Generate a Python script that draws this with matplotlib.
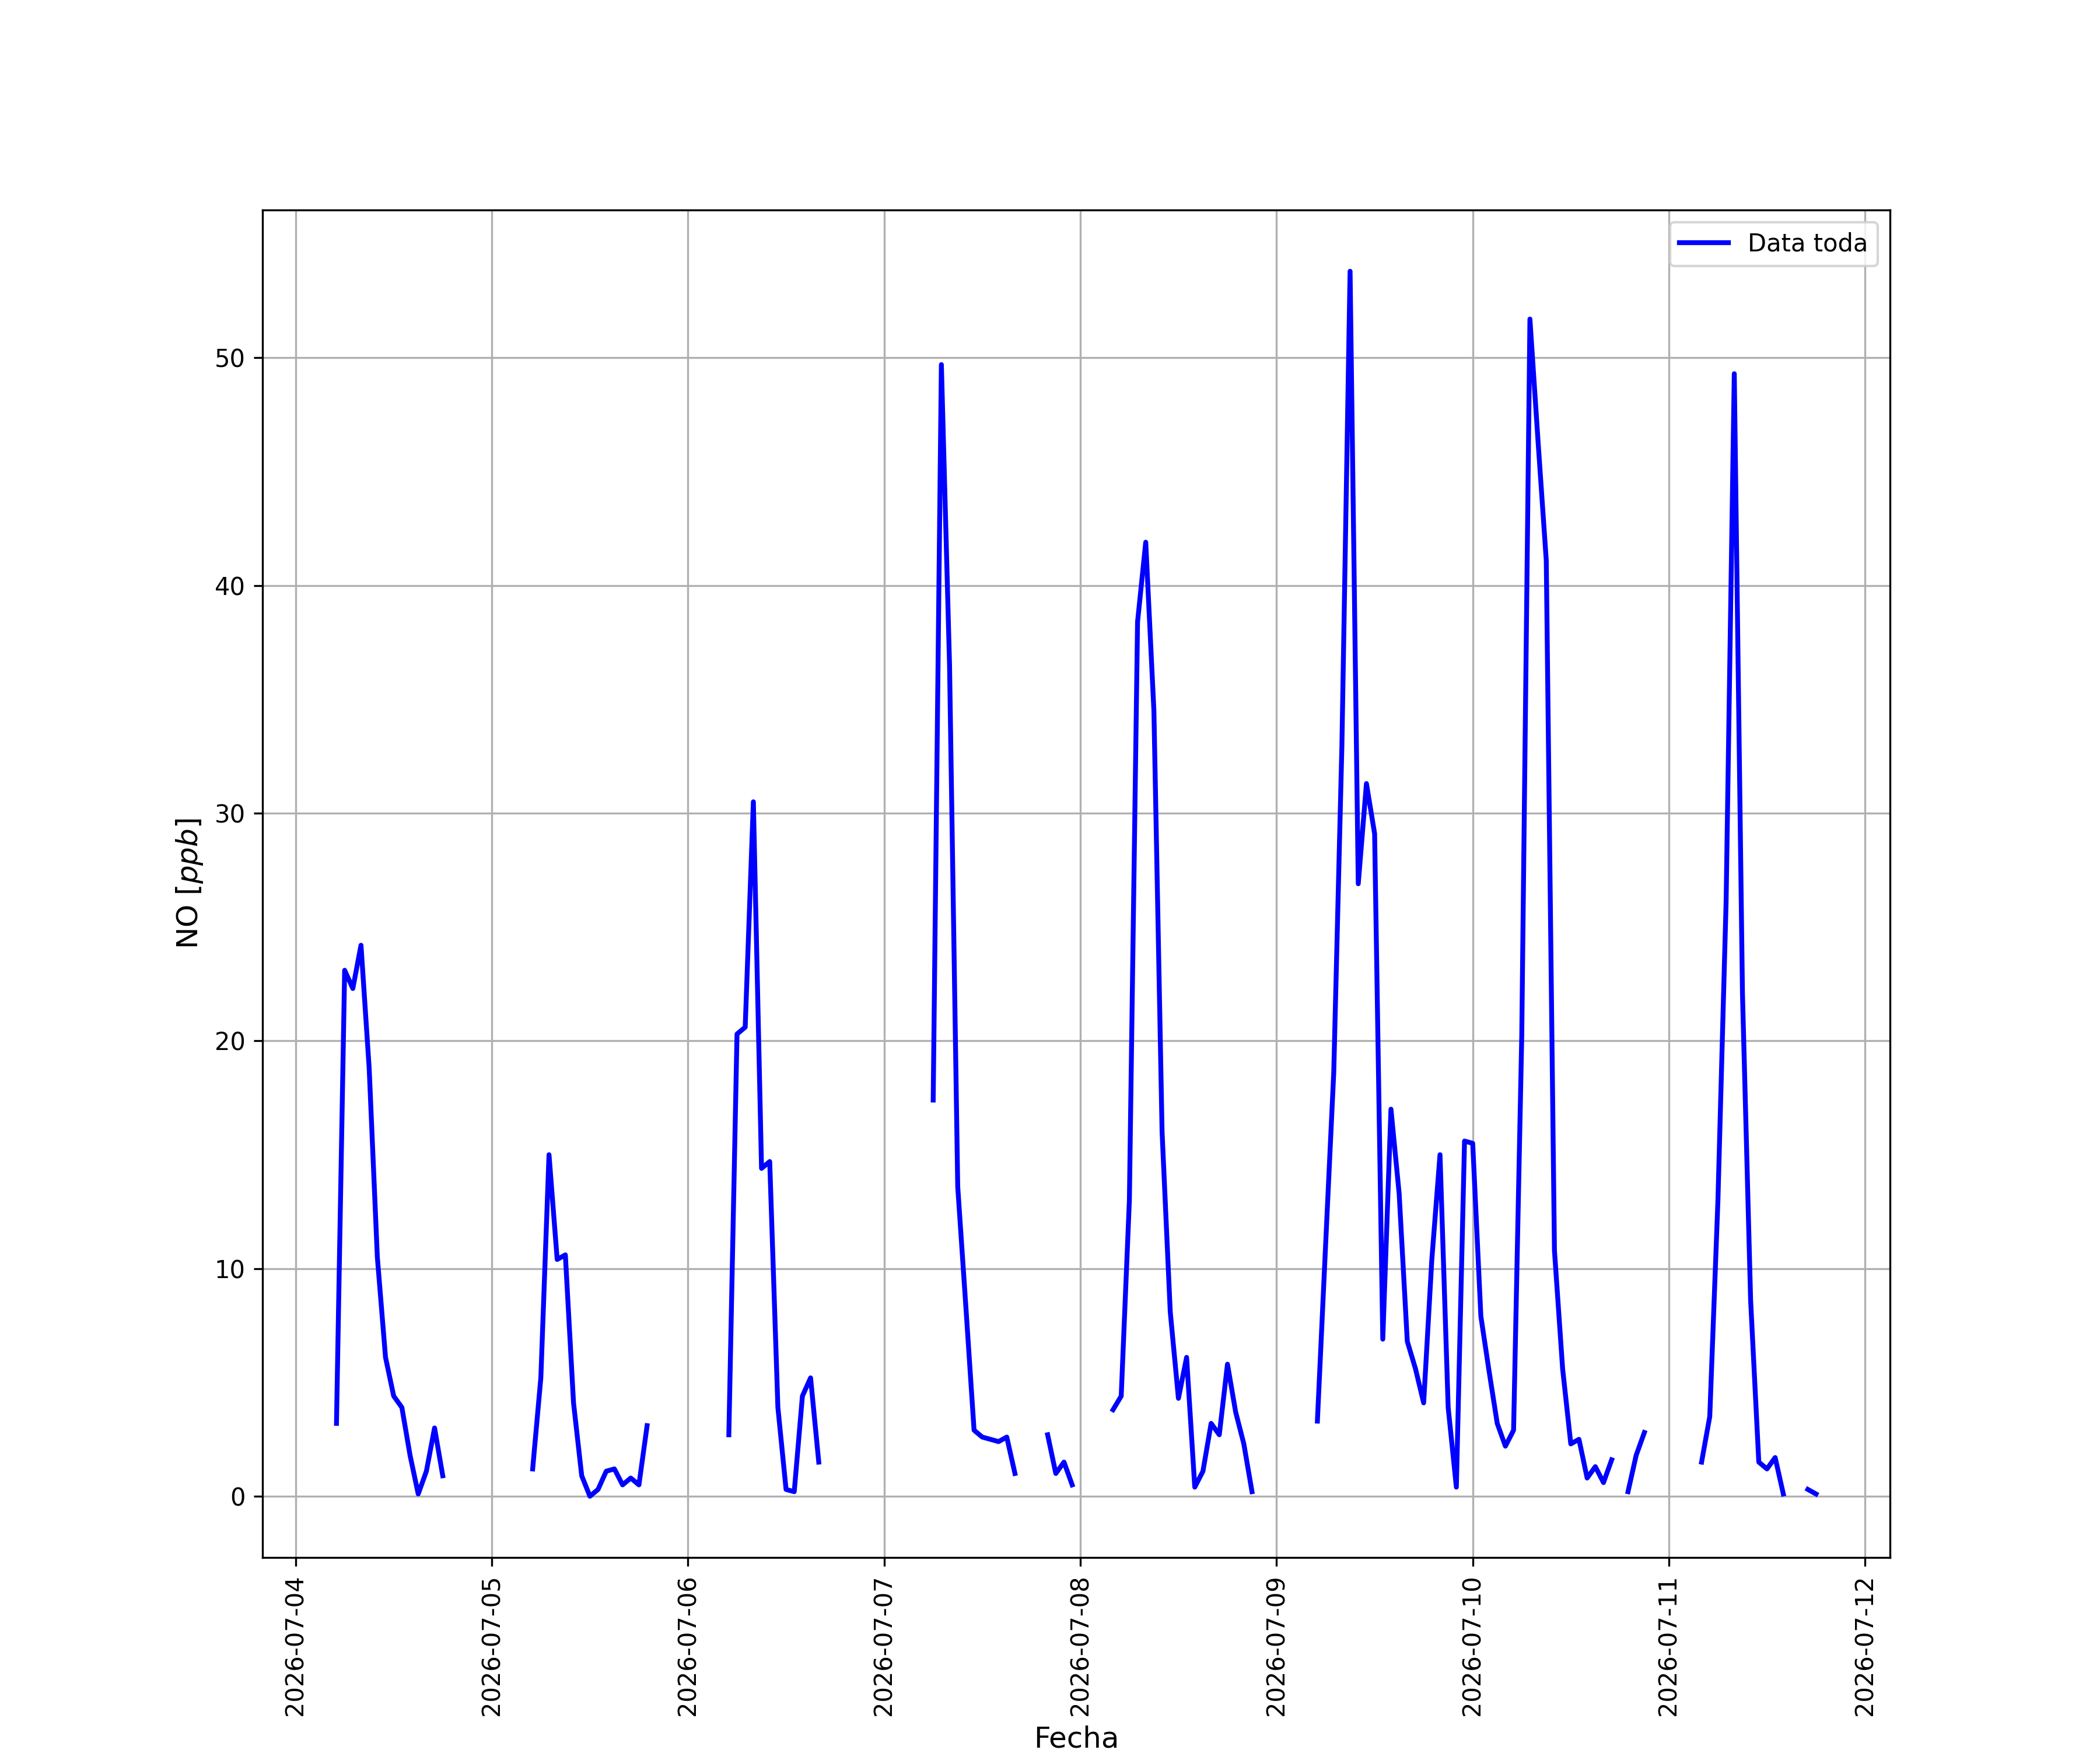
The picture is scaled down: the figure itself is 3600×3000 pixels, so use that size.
import pandas as pd
import numpy as np
import matplotlib
matplotlib.use("Agg")
import matplotlib.pyplot as plt

# NO hourly readings [ppb], each list starts at the given hour
dia_04 = [3.2, 23.1, 22.3, 24.2, 18.8, 10.5, 6.1, 4.4, 3.9, 1.8, 0.1, 1.1, 3.0, 0.9]
dia_05 = [1.2, 5.2, 15.0, 10.4, 10.6, 4.1, 0.9, 0.0, 0.3, 1.1, 1.2, 0.5, 0.8, 0.5, 3.1]
dia_06 = [2.7, 20.3, 20.6, 30.5, 14.4, 14.7, 3.9, 0.3, 0.2, 4.4, 5.2, 1.5]
dia_07a = [17.4, 49.7, 36.5, 13.6, 8.3, 2.9, 2.6, 2.5, 2.4, 2.6, 1.0]
dia_07b = [2.7, 1.0, 1.5, 0.5]
dia_08 = [3.8, 4.4, 13.0, 38.4, 41.9, 34.5, 16.0, 8.1, 4.3, 6.1, 0.4, 1.1, 3.2, 2.7, 5.8, 3.7, 2.3, 0.2]
dia_09 = [3.3, 11.0, 18.6, 33.0, 53.8, 26.9, 31.3, 29.1, 6.9, 17.0, 13.3, 6.8, 5.6, 4.1, 10.4, 15.0, 3.9, 0.4, 15.6]
dia_10a = [15.5, 7.9, 5.5, 3.2, 2.2, 2.9, 20.2, 51.7, 46.3, 41.1, 10.8, 5.6, 2.3, 2.5, 0.8, 1.3, 0.6, 1.6]
dia_10b = [0.2, 1.8, 2.8]
dia_11a = [1.5, 3.5, 13.0, 26.1, 49.3, 22.1, 8.6, 1.5, 1.2, 1.7, 0.1]
dia_11b = [0.3, 0.1]

inicios = ["2026-07-04 05:00", "2026-07-05 05:00", "2026-07-06 05:00",
           "2026-07-07 06:00", "2026-07-07 20:00", "2026-07-08 04:00",
           "2026-07-09 05:00", "2026-07-10 00:00", "2026-07-10 19:00",
           "2026-07-11 04:00", "2026-07-11 17:00"]
tramos = [dia_04, dia_05, dia_06, dia_07a, dia_07b, dia_08,
          dia_09, dia_10a, dia_10b, dia_11a, dia_11b]

serie = pd.concat([pd.Series(v, index=pd.date_range(t, periods=len(v), freq="h"))
                   for t, v in zip(inicios, tramos)])
# hourly index, missing hours stay NaN so the line breaks
horas = pd.date_range(serie.index.min(), serie.index.max(), freq="h")
serie = serie.reindex(horas)

fig, ax = plt.subplots(figsize=(12, 10))
ax.plot(serie.index, serie.values, color="blue", lw=2, label="Data toda")
ax.set_xlabel("Fecha", fontsize=12)
ax.set_ylabel("NO $[ppb]$", fontsize=12)
ax.grid(True)
ax.legend(loc="upper right")
plt.xticks(rotation=90)
plt.savefig("out.png", dpi=300)
